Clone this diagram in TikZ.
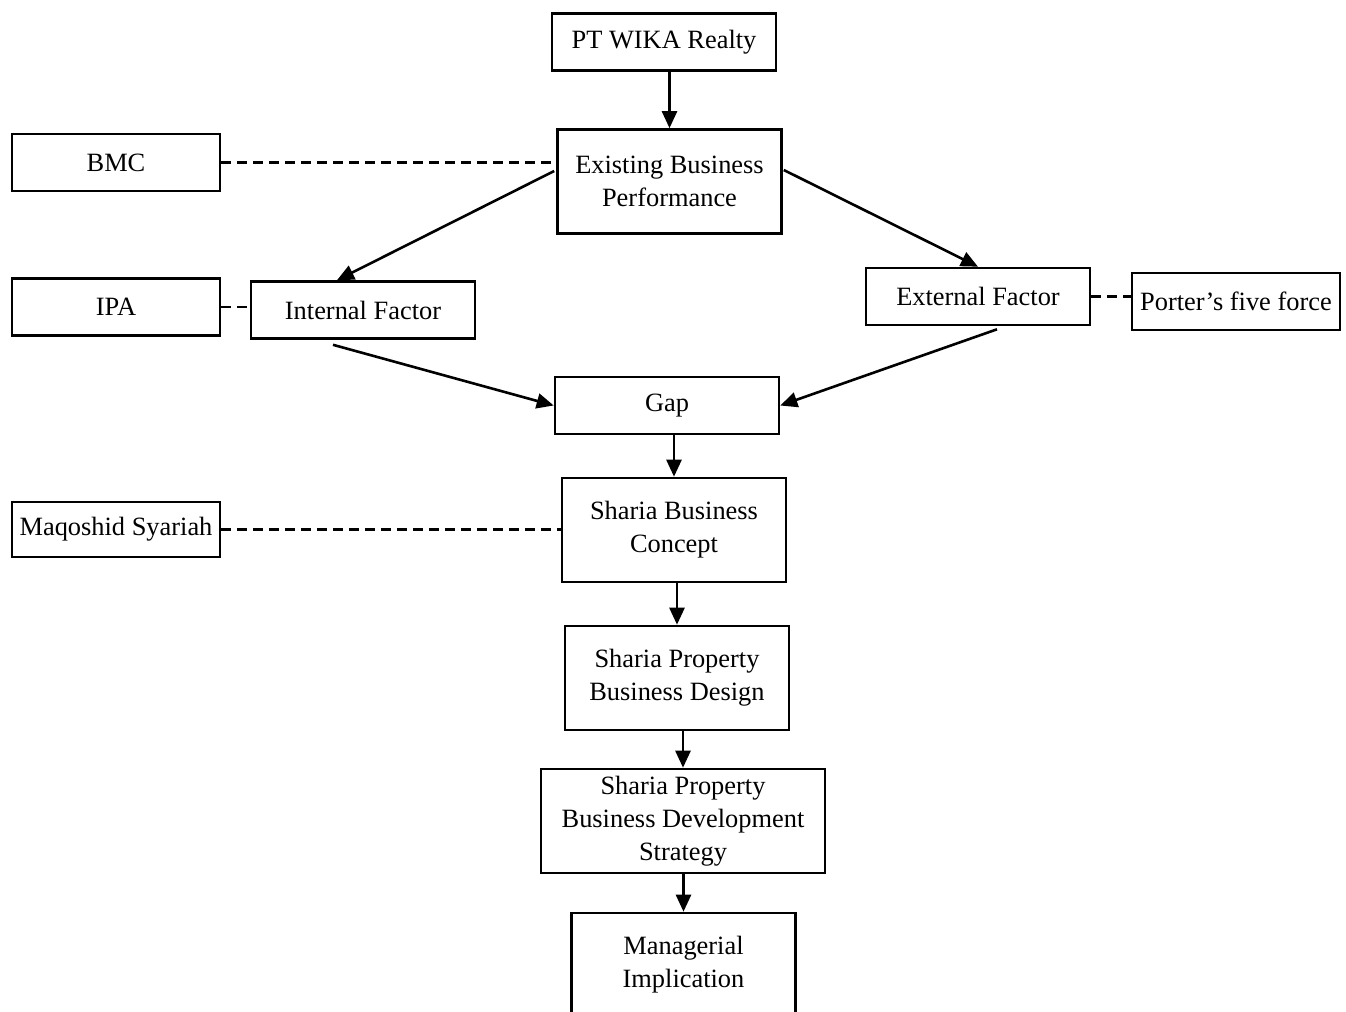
\documentclass[tikz,border=0pt]{standalone}
\usepackage{fontspec}
\setmainfont{Liberation Serif}
\usetikzlibrary{arrows.meta,positioning}

\begin{document}
\begin{tikzpicture}[x=0.5pt,y=-0.5pt,
    box/.style={draw,line width=1.3pt,minimum width=112pt,minimum height=28.5pt,
                inner sep=0pt,align=center,font=\fontsize{13.2}{16.5}\selectfont},
    tall/.style={box,minimum height=52pt},
    side/.style={box,minimum width=104pt},
    arr/.style={line width=1.3pt,-{Triangle[length=8.5pt,width=7.5pt]}},
    link/.style={line width=1.3pt,dash pattern=on 5pt off 3pt}]
    \useasboundingbox (0,0) rectangle (1346,1012);
    \clip (0,0) rectangle (1346,1012);
    % main column
    \node[box] (wika) at (664,42) {PT WIKA Realty};
    \node[tall] (ebp) at (669.5,181.5) {Existing Business\\Performance};
    \node[box] (intf) at (363,310) {Internal Factor};
    \node[box] (extf) at (978,296.5) {External Factor};
    \node[box] (gap) at (667,405.5) {Gap};
    \node[tall] (sbc) at (674,530) {Sharia Business\\Concept};
    \node[tall] (spbd) at (677,678) {Sharia Property\\Business Design};
    \node[tall,minimum width=142pt] (spbds) at (683,821) {Sharia Property\\Business Development\\Strategy};
    \node[tall] (mi) at (683.5,965) {Managerial\\Implication};
    % tools at the side
    \node[side] (bmc) at (116,162.5) {BMC};
    \node[side] (ipa) at (116,307) {IPA};
    \node[side] (porter) at (1236,301.5) {Porter’s five force};
    \node[side,minimum height=27.5pt] (maq) at (116,529.5) {Maqoshid Syariah};

    \draw[arr] (ebp.north |- wika.south) -- (ebp.north);
    \draw[arr] ([xshift=-1pt,yshift=5.25pt]ebp.west) -- ([xshift=-13pt]intf.north);
    \draw[arr] ([xshift=0.5pt,yshift=5.75pt]ebp.east) -- (extf.north);
    \draw[arr] ([xshift=-15pt,yshift=-2.5pt]intf.south) -- (gap.west);
    \draw[arr] ([xshift=9.5pt,yshift=-1.5pt]extf.south) -- (gap.east);
    \draw[arr] (gap.south -| sbc.north) -- (sbc.north);
    \draw[arr] (sbc.south -| spbd.north) -- (spbd.north);
    \draw[arr] (spbd.south -| spbds.north) -- (spbds.north);
    \draw[arr] (spbds.south -| mi.north) -- (mi.north);

    \draw[link] (bmc.east) -- (bmc.east -| ebp.west);
    \draw[link] (ipa.east) -- (ipa.east -| intf.west);
    \draw[link] (extf.east) -- (extf.east -| porter.west);
    \draw[link] (maq.east) -- (maq.east -| sbc.west);
\end{tikzpicture}
\end{document}
